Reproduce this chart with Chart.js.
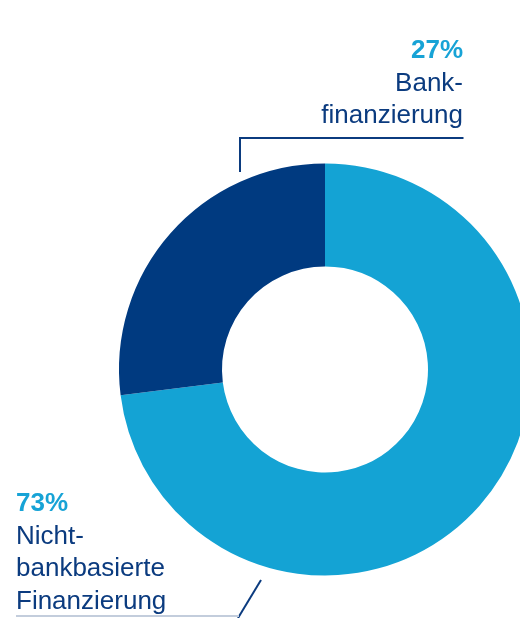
<!DOCTYPE html>
<html>
<head>
<meta charset="utf-8">
<script src="https://cdn.jsdelivr.net/npm/chart.js@4.4.1/dist/chart.umd.min.js"></script>
<style>
  html, body { margin: 0; padding: 0; background: #ffffff; overflow: hidden; width: 520px; height: 618px; }
  #wrap { position: absolute; left: 0; top: 0; width: 560px; height: 618px; }
</style>
</head>
<body>
<div id="wrap"><canvas id="c" width="560" height="618"></canvas></div>
<script>
const categories = ["Nichtbankbasierte Finanzierung", "Bankfinanzierung"];
const shares = [73, 27];
const percentLabels = ["73%", "27%"];
const labelLines = [["Nicht-", "bankbasierte", "Finanzierung"], ["Bank-", "finanzierung"]];
const sliceColors = ["#14A3D4", "#003A80"];

const TEXT_DARK = "#0B3B7F";
const TEXT_LIGHT = "#17A3D6";
const FONT = "Liberation Sans, Arial, Helvetica, sans-serif";

const annotate = {
  id: "annotate",
  afterDraw(chart) {
    const ctx = chart.ctx;
    ctx.save();
    // connectors
    ctx.lineCap = "butt";
    ctx.strokeStyle = TEXT_DARK;
    ctx.lineWidth = 2;
    ctx.beginPath();
    ctx.moveTo(240, 172);
    ctx.lineTo(240, 138);
    ctx.lineTo(463.5, 138);
    ctx.stroke();

    ctx.beginPath();
    ctx.moveTo(261, 580);
    ctx.lineTo(238, 618);
    ctx.stroke();

    ctx.strokeStyle = "#C3CDDC";
    ctx.beginPath();
    ctx.moveTo(16, 616);
    ctx.lineTo(239, 616);
    ctx.stroke();

    // right label (Bankfinanzierung)
    ctx.textAlign = "right";
    ctx.textBaseline = "alphabetic";
    ctx.fillStyle = TEXT_LIGHT;
    ctx.font = "bold 26px " + FONT;
    ctx.fillText(percentLabels[1], 463, 58);
    ctx.fillStyle = TEXT_DARK;
    ctx.font = "26px " + FONT;
    labelLines[1].forEach((t, i) => ctx.fillText(t, 463, 91 + i * 31.5));

    // left label (Nichtbankbasierte Finanzierung)
    ctx.textAlign = "left";
    ctx.fillStyle = TEXT_LIGHT;
    ctx.font = "bold 26px " + FONT;
    ctx.fillText(percentLabels[0], 16, 511);
    ctx.fillStyle = TEXT_DARK;
    ctx.font = "26px " + FONT;
    labelLines[0].forEach((t, i) => ctx.fillText(t, 16, 543.5 + i * 32.5));
    ctx.restore();
  }
};

new Chart(document.getElementById("c"), {
  type: "doughnut",
  data: {
    labels: categories,
    datasets: [{
      data: shares,
      backgroundColor: sliceColors,
      borderWidth: 0,
      hoverOffset: 0
    }]
  },
  options: {
    responsive: false,
    animation: false,
    cutout: "50%",
    layout: { padding: { left: 119, right: 29, top: 163.5, bottom: 42.5 } },
    plugins: {
      legend: { display: false },
      tooltip: { enabled: false }
    }
  },
  plugins: [annotate]
});
</script>
</body>
</html>
